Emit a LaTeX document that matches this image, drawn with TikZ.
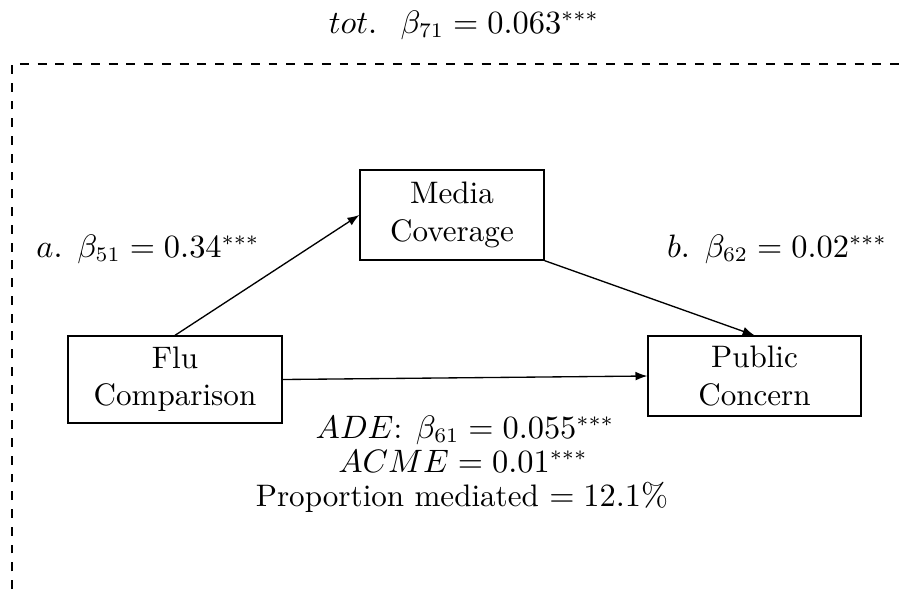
\documentclass[tikz,border=0pt]{standalone}
\usetikzlibrary{arrows.meta}
\begin{document}
\begin{tikzpicture}[x=0.3378pt,y=-0.3378pt,
  font=\fontsize{10.5}{12.6}\selectfont,
  conn/.style={-{Latex[length=4pt,width=3pt]},line width=0.45pt},
  lbl/.style={inner sep=0pt,anchor=base}]
\useasboundingbox (0,0) rectangle (906,589);
\node[draw,line width=0.45pt,minimum width=184*0.3378pt,minimum height=90*0.3378pt,align=center] (media) at (452,215) {Media\\Coverage};
\node[draw,line width=0.45pt,minimum width=214*0.3378pt,minimum height=87*0.3378pt,align=center] (flu) at (175,379.5) {Flu\\Comparison};
\node[draw,line width=0.45pt,minimum width=213*0.3378pt,minimum height=80*0.3378pt,align=center] (pub) at (754.5,376) {Public\\Concern};
\draw[conn] (flu.north) -- (media.west);
\draw[conn] (media.south east) -- (pub.north);
\draw[conn] (flu.east) -- (pub.west);
\node[lbl] (tot) at (464,33) {$tot.\hskip 8pt\beta_{71}=0.063^{***}$};
\node[lbl] (la) at (148,257) {$a.\hskip 5pt\beta_{51}=0.34^{***}$};
\node[lbl] (lb) at (777,257) {$b.\hskip 5pt\beta_{62}=0.02^{***}$};
\node[lbl] (ade) at (465,438) {$ADE$: $\beta_{61}=0.055^{***}$};
\node[lbl] (acme) at (463,472) {$ACME=0.01^{***}$};
\node[lbl] (prop) at (462,506) {Proportion mediated $=12.1\%$};
\coordinate (c1) at (12,589);
\coordinate (c2) at (12,64);
\coordinate (c3) at (906,64);
\draw[dashed,line width=0.4pt] (c1) -- (c2) -- (c3);
\end{tikzpicture}
\end{document}
